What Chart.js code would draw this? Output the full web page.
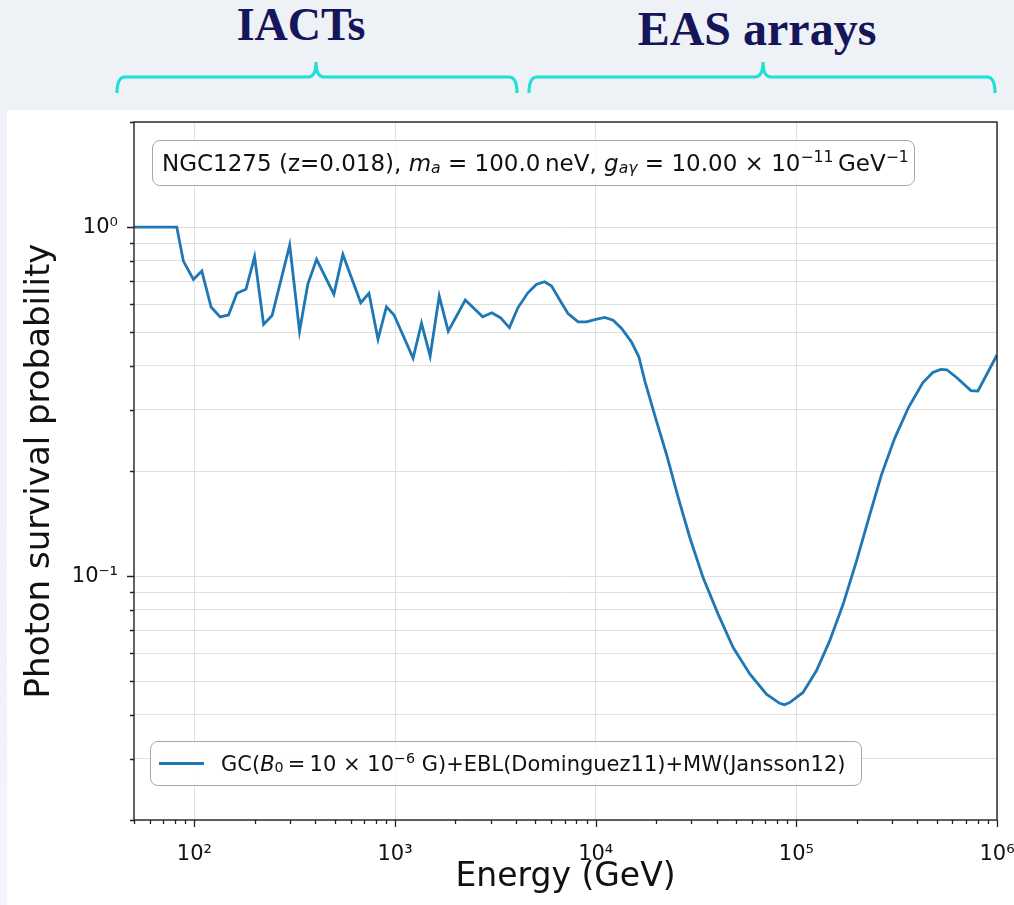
<!DOCTYPE html>
<html>
<head>
<meta charset="utf-8">
<script src="https://cdn.jsdelivr.net/npm/chart.js@4.4.1/dist/chart.umd.min.js"></script>
<style>
  html,body{margin:0;padding:0;}
  #wrap{position:relative;width:1014px;height:905px;overflow:hidden;
        background:linear-gradient(180deg,#eef1f6 0%,#f1f4f8 100%);font-family:'DejaVu Sans',sans-serif;}
  #panel{position:absolute;left:7px;top:110px;right:0;bottom:0;background:#ffffff;}
  #c{position:absolute;left:0;top:0;}
  .box{position:absolute;background:rgba(255,255,255,0.85);border:1.5px solid #a8a8a8;border-radius:8px;
       box-sizing:border-box;color:#111;white-space:nowrap;display:flex;align-items:center;}
  .sb{font-size:0.68em;position:relative;top:0.28em;}
  .sp{font-size:0.68em;position:relative;top:-0.42em;}
  #annot{left:152px;top:140px;width:763px;height:46px;padding-left:9px;font-size:23px;}
  #legend{left:150px;top:741px;width:712px;height:45px;padding-left:8px;font-size:21px;}
  #swatch{display:inline-block;flex-shrink:0;width:45px;height:3px;margin-right:17px;}
</style>
</head>
<body>
<div id="wrap">
  <div id="panel"></div>
  <svg width="1014" height="110" style="position:absolute;left:0;top:0">
    <text x="301" y="40" text-anchor="middle" font-family="Liberation Serif" font-weight="bold" font-size="46" fill="#15155a">IACTs</text>
    <text x="757" y="45" text-anchor="middle" font-family="Liberation Serif" font-weight="bold" font-size="48" fill="#15155a">EAS arrays</text>
    <path d="M117,93 Q117,77 125,77 L308,77 Q316,77 316,62 Q316,77 324,77 L509,77 Q517,77 517,93" fill="none" stroke="#1ee0d6" stroke-width="3.2"/>
    <path d="M529,93 Q529,77 537,77 L755,77 Q763,77 763,62 Q763,77 771,77 L987,77 Q995,77 995,93" fill="none" stroke="#1ee0d6" stroke-width="3.2"/>
  </svg>
  <canvas id="c" width="1014" height="905"></canvas>
  <div id="annot" class="box">NGC1275 (z=0.018),&nbsp;<i>m</i><i class="sb">a</i>&nbsp;=&nbsp;100.0&thinsp;neV,&nbsp;<i>g</i><i class="sb">aγ</i>&nbsp;=&nbsp;10.00 × 10<span class="sp">−11</span>&thinsp;GeV<span class="sp">−1</span></div>
  <div id="legend" class="box"><span id="swatch"></span>GC(<i>B</i><span class="sb">0</span>&thinsp;=&thinsp;10 × 10<span class="sp">−6</span>&nbsp;G)+EBL(Dominguez11)+MW(Jansson12)</div>
</div>
<script>
// ---- data ----
const energyGeV = [50, 81.7, 88.1, 98.9, 108.9, 121.1, 134.3, 147.9, 162.9, 180.7, 199.5, 221.3, 243.8, 298.5,
  334.2, 367.3, 406.4, 495.5, 549.5, 674.5, 741.3, 822.2, 905.7, 988.6, 1230, 1355, 1496, 1660, 1841, 2239,
  2735, 3034, 3350, 3715, 4093, 4592, 5058, 5559, 6026, 6622, 7278, 8166, 8995, 9886, 11092, 12218, 13459,
  15066, 16406, 17579, 20091, 22542, 25763, 29444, 34277, 40738, 48417, 58614, 70958, 82604, 87100, 92683,
  107895, 125893, 146555, 171002, 199067, 232274, 265461, 309030, 363078, 426580, 478630, 524807, 562341,
  630957, 741310, 803526, 1000000];
const survivalProb = [1.0, 1.0, 0.799, 0.708, 0.748, 0.59, 0.553, 0.56, 0.646, 0.663, 0.822, 0.526, 0.558, 0.888,
  0.503, 0.685, 0.808, 0.642, 0.835, 0.607, 0.646, 0.477, 0.591, 0.56, 0.421, 0.53, 0.427, 0.634, 0.503, 0.618,
  0.553, 0.568, 0.55, 0.515, 0.587, 0.648, 0.685, 0.697, 0.678, 0.618, 0.565, 0.535, 0.535, 0.543, 0.551, 0.541,
  0.512, 0.469, 0.425, 0.362, 0.278, 0.223, 0.168, 0.129, 0.099, 0.0778, 0.0624, 0.0524, 0.0459, 0.0432, 0.0428,
  0.0434, 0.0464, 0.0535, 0.0652, 0.083, 0.110, 0.150, 0.195, 0.248, 0.305, 0.358, 0.383, 0.391, 0.39, 0.37,
  0.34, 0.339, 0.43];
const seriesLabel = 'GC(B0 = 10 × 10^-6 G)+EBL(Dominguez11)+MW(Jansson12)';

const xMajorTicks = [100, 1000, 10000, 100000, 1000000];
const xTickLabels = ['10²', '10³', '10⁴', '10⁵', '10⁶'];
const yMajorTicks = [0.1, 1];
const yTickLabels = ['10⁻¹', '10⁰'];
const xRange = [50, 1000000];
const yRange = [0.02, 2];

// minor tick positions (axis decoration)
function minorTicks(lo, hi) {
  const out = [];
  for (let d = Math.floor(Math.log10(lo)); d < Math.ceil(Math.log10(hi)); d++) {
    for (let m = 2; m <= 9; m++) {
      const v = m * Math.pow(10, d);
      if (v >= lo * 0.999 && v <= hi * 1.001) out.push(v);
    }
  }
  return out;
}
const xMinor = minorTicks(xRange[0], xRange[1]);
const yMinor = minorTicks(yRange[0], yRange[1]);

const LINE_COLOR = '#1f77b4';
const GRID_COLOR = '#e0e0e0';

const isXMajor = v => xMajorTicks.some(m => Math.abs(v / m - 1) < 1e-6);

const tickMarks = {
  id: 'tickMarks',
  afterDraw(chart) {
    const ctx = chart.ctx, a = chart.chartArea, xs = chart.scales.x, ys = chart.scales.y;
    ctx.save();
    ctx.strokeStyle = '#222';
    ctx.lineWidth = 1.3;
    ctx.beginPath();
    xs.ticks.forEach(t => {
      const L = isXMajor(t.value) ? 7 : 4;
      const p = Math.round(xs.getPixelForValue(t.value)) + 0.5;
      ctx.moveTo(p, a.bottom); ctx.lineTo(p, a.bottom + L);
    });
    ys.ticks.forEach(t => {
      const L = yMajorTicks.includes(t.value) ? 7 : 4;
      const p = Math.round(ys.getPixelForValue(t.value)) + 0.5;
      ctx.moveTo(a.left, p); ctx.lineTo(a.left - L, p);
    });
    ctx.stroke();
    ctx.lineWidth = 1.4;
    ctx.strokeRect(a.left, a.top, a.right - a.left, a.bottom - a.top);
    ctx.restore();
  }
};

Chart.defaults.font.family = "'DejaVu Sans', sans-serif";
Chart.defaults.color = '#111';

const chart = new Chart(document.getElementById('c'), {
  type: 'line',
  data: {
    datasets: [{
      label: seriesLabel,
      data: energyGeV.map((e, i) => ({x: e, y: survivalProb[i]})),
      borderColor: LINE_COLOR,
      borderWidth: 2.8,
      pointRadius: 0,
      tension: 0,
      fill: false
    }]
  },
  options: {
    responsive: false,
    animation: false,
    devicePixelRatio: 1,
    layout: {padding: {top: 122, right: 17, left: 0, bottom: 0}},
    plugins: {legend: {display: false}, tooltip: {enabled: false}},
    scales: {
      x: {
        type: 'logarithmic',
        min: xRange[0], max: xRange[1],
        afterBuildTicks: s => { s.ticks = xMajorTicks.concat(xMinor).sort((p, q) => p - q).map(v => ({value: v})); },
        afterFit: s => { s.height = 85; s.paddingLeft = 0; s.paddingRight = 0; },
        ticks: {
          autoSkip: false, maxRotation: 0, padding: 22,
          font: {size: 21},
          callback: v => { const i = xMajorTicks.findIndex(m => Math.abs(v / m - 1) < 1e-6); return i >= 0 ? xTickLabels[i] : ''; }
        },
        grid: {
          drawTicks: false, lineWidth: 1,
          color: c => (c.tick && isXMajor(c.tick.value)) ? GRID_COLOR : 'rgba(0,0,0,0)'
        },
        border: {display: false},
        title: {display: true, text: 'Energy (GeV)', font: {size: 33}, padding: {top: 0, bottom: 8}}
      },
      y: {
        type: 'logarithmic',
        min: yRange[0], max: yRange[1],
        afterBuildTicks: s => { s.ticks = yMajorTicks.concat(yMinor).sort((p, q) => p - q).map(v => ({value: v})); },
        afterFit: s => { s.width = 134; s.paddingTop = 0; s.paddingBottom = 0; },
        ticks: {
          autoSkip: false, padding: 16,
          font: {size: 21},
          callback: v => { const i = yMajorTicks.indexOf(v); return i >= 0 ? yTickLabels[i] : ''; }
        },
        grid: {drawTicks: false, lineWidth: 1, color: GRID_COLOR},
        border: {display: false},
        title: {display: true, text: 'Photon survival probability', font: {size: 34}, padding: {top: 20, bottom: 0}}
      }
    }
  },
  plugins: [tickMarks]
});
document.getElementById('swatch').style.background = chart.data.datasets[0].borderColor;
</script>
</body>
</html>
